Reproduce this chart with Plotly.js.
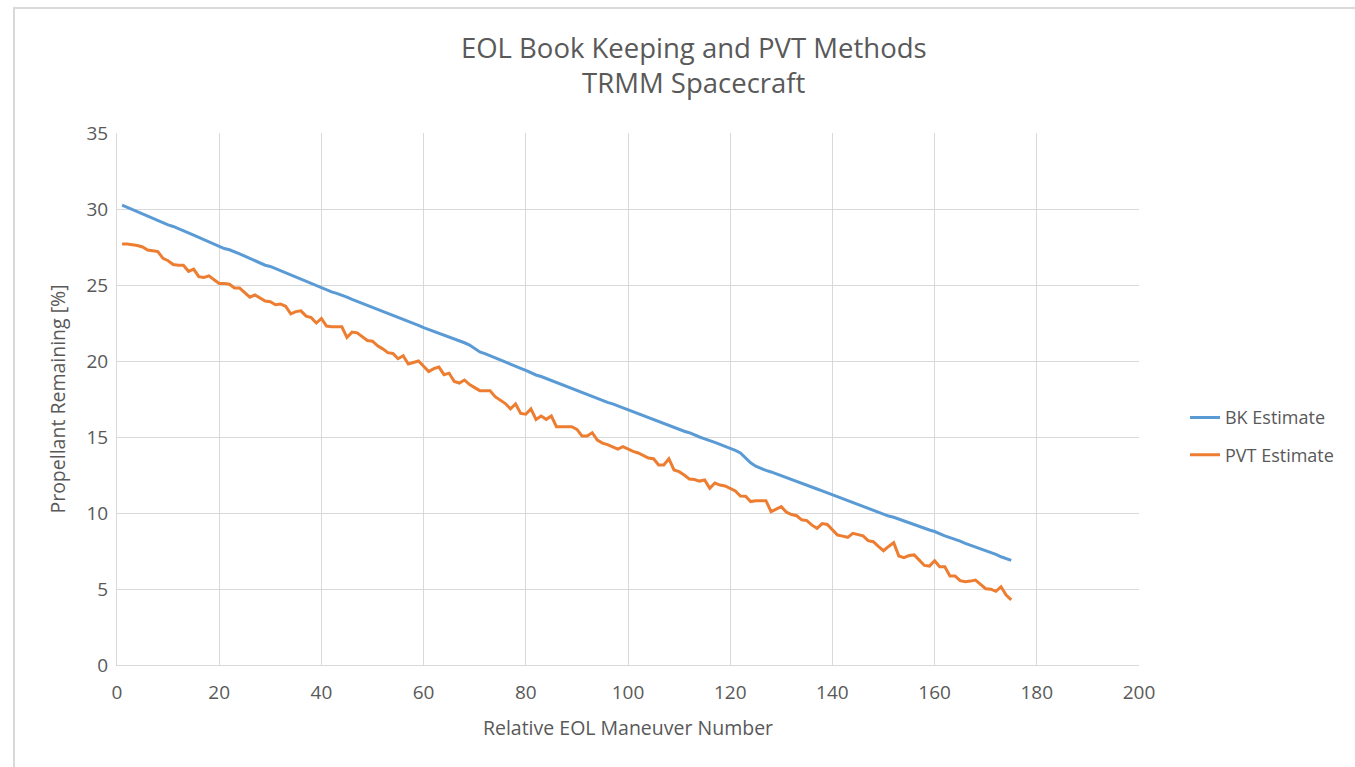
<!DOCTYPE html>
<html>
<head>
<meta charset="utf-8">
<script src="https://cdn.plot.ly/plotly-3.0.1.min.js"></script>
<style>
html,body{margin:0;padding:0;background:#fff;}
#chart{width:1355px;height:767px;position:absolute;left:0;top:0;}
#frame{position:absolute;left:13px;top:7px;width:1342px;height:758px;border-left:2px solid #d9d9d9;border-top:2px solid #d9d9d9;pointer-events:none;}
</style>
</head>
<body>
<div id="chart"></div>
<div id="frame"></div>
<script>
const maneuver = [];
for (let i = 1; i <= 175; i++) maneuver.push(i);

const bkEstimate = [
30.25,30.1,29.95,29.82,29.68,29.55,29.4,29.25,29.08,28.95,
28.85,28.72,28.58,28.42,28.28,28.14,28.0,27.85,27.7,27.55,
27.4,27.32,27.2,27.05,26.9,26.75,26.6,26.45,26.3,26.22,
26.08,25.92,25.78,25.62,25.48,25.38,25.25,25.1,24.95,24.82,
24.68,24.55,24.45,24.35,24.2,24.05,23.92,23.8,23.68,23.55,
23.42,23.3,23.15,23.0,22.88,22.78,22.65,22.5,22.35,22.2,
22.08,21.97,21.85,21.72,21.58,21.45,21.32,21.2,21.05,20.8,
20.6,20.48,20.35,20.2,20.05,19.95,19.82,19.68,19.52,19.38,
19.22,19.08,18.98,18.85,18.7,18.55,18.45,18.32,18.18,18.05,
17.92,17.8,17.68,17.55,17.4,17.28,17.18,17.05,16.9,16.78,
16.65,16.5,16.38,16.25,16.12,16.0,15.88,15.75,15.62,15.5,
15.38,15.28,15.12,15.0,14.88,14.78,14.65,14.52,14.4,14.28,
14.12,13.95,13.65,13.3,13.08,12.92,12.8,12.7,12.58,12.45,
12.32,12.22,12.1,11.95,11.82,11.7,11.58,11.45,11.32,11.2,
11.1,10.95,10.82,10.7,10.55,10.45,10.3,10.18,10.05,9.92,
9.8,9.72,9.6,9.45,9.32,9.2,9.12,9.0,8.88,8.78,
8.62,8.5,8.38,8.28,8.15,8.0,7.88,7.78,7.65,7.52,
7.4,7.28,7.12,7.0,6.88
];

const pvtEstimate = [
27.7,27.7,27.65,27.6,27.5,27.3,27.25,27.2,26.75,26.6,
26.35,26.3,26.3,25.9,26.05,25.55,25.5,25.6,25.35,25.1,
25.1,25.05,24.8,24.8,24.5,24.2,24.35,24.15,23.95,23.9,
23.7,23.75,23.6,23.1,23.25,23.3,22.95,22.85,22.5,22.8,
22.3,22.25,22.25,22.25,21.55,21.9,21.85,21.6,21.35,21.3,
21.0,20.8,20.55,20.5,20.15,20.35,19.8,19.9,20.0,19.65,
19.3,19.5,19.6,19.1,19.2,18.65,18.55,18.75,18.45,18.25,
18.05,18.05,18.05,17.65,17.4,17.2,16.85,17.17,16.55,16.5,
16.85,16.15,16.38,16.16,16.38,15.68,15.68,15.68,15.68,15.5,
15.07,15.07,15.28,14.8,14.6,14.5,14.35,14.2,14.36,14.2,
14.05,13.95,13.8,13.62,13.57,13.16,13.16,13.57,12.83,12.72,
12.5,12.24,12.2,12.1,12.17,11.62,11.97,11.84,11.78,11.6,
11.45,11.12,11.1,10.75,10.8,10.8,10.81,10.09,10.25,10.42,
10.05,9.9,9.82,9.55,9.5,9.2,8.99,9.3,9.25,8.9,
8.55,8.48,8.4,8.66,8.6,8.5,8.18,8.11,7.8,7.52,
7.8,8.05,7.17,7.06,7.2,7.24,6.9,6.55,6.51,6.86,
6.47,6.47,5.86,5.86,5.55,5.48,5.52,5.59,5.3,5.02,
4.99,4.85,5.15,4.6,4.28
];

const xTicks = [0,20,40,60,80,100,120,140,160,180,200];
const yTicks = [0,5,10,15,20,25,30,35];

const fontFam = '"Open Sans", "Segoe UI", "DejaVu Sans", sans-serif';
const txt = '#595959';
const grid = '#d9d9d9';

const traces = [
  {x: maneuver, y: bkEstimate, name: 'BK Estimate', type: 'scatter', mode: 'lines',
   legendgroup: 'bk', line: {color: '#5b9bd5', width: 3}},
  {x: maneuver, y: pvtEstimate, name: 'PVT Estimate', type: 'scatter', mode: 'lines',
   legendgroup: 'pvt', line: {color: '#ed7d31', width: 3}}
];

const layout = {
  width: 1355, height: 767,
  margin: {l: 117, r: 216, t: 133, b: 102},
  paper_bgcolor: '#ffffff', plot_bgcolor: '#ffffff',
  font: {family: fontFam, color: txt, size: 18},
  title: {text: 'EOL Book Keeping and PVT Methods<br>TRMM Spacecraft',
          font: {family: fontFam, size: 27.5, color: txt},
          x: 0.512, xanchor: 'center', xref: 'container', yref: 'container', y: 0.925, yanchor: 'middle'},
  xaxis: {range: [0, 200], tickvals: xTicks, ticktext: xTicks.map(String),
          showgrid: true, gridcolor: grid, gridwidth: 1,
          zeroline: false, showline: true, linecolor: grid, linewidth: 1, mirror: false,
          ticks: '', ticklabelstandoff: 10, tickfont: {size: 19, color: txt},
          title: {text: 'Relative EOL Maneuver Number', font: {size: 19.5, color: txt}, standoff: 17}},
  yaxis: {range: [0, 35], tickvals: yTicks, ticktext: yTicks.map(String),
          showgrid: true, gridcolor: grid, gridwidth: 1,
          zeroline: false, showline: true, linecolor: grid, linewidth: 1,
          ticks: '', ticklabelstandoff: 4, tickfont: {size: 19, color: txt},
          title: {text: 'Propellant Remaining [%]', font: {size: 19.5, color: txt}, standoff: 15}},
  legend: {x: 1.045, xanchor: 'left', y: 0.43, yanchor: 'middle',
           font: {size: 18, color: txt}, traceorder: 'grouped', tracegroupgap: 11,
           bgcolor: 'rgba(0,0,0,0)'},
  showlegend: true
};

Plotly.newPlot('chart', traces, layout, {displayModeBar: false, staticPlot: true});
</script>
</body>
</html>
